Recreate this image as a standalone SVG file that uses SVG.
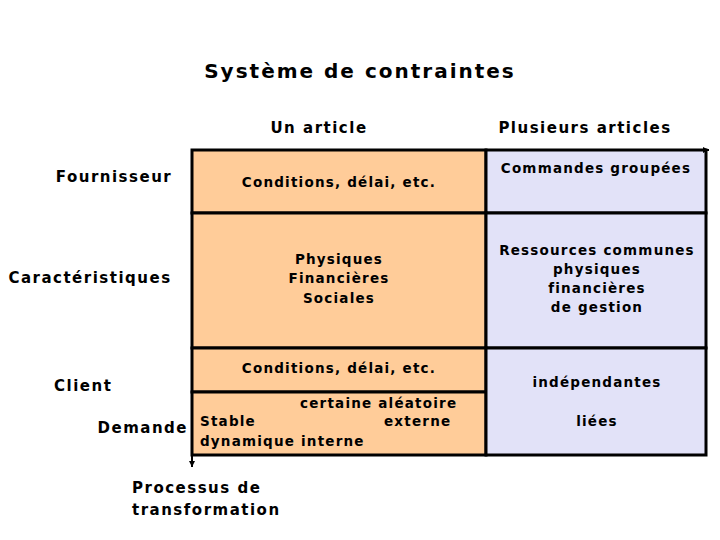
<svg xmlns="http://www.w3.org/2000/svg" width="720" height="540" viewBox="0 0 720 540">
<defs>
<style>
text{font-family:"DejaVu Sans","Verdana",sans-serif;font-weight:bold;fill:#000}
.t{font-size:20px;letter-spacing:2px}
.h{font-size:15px;letter-spacing:1.5px}
.b{font-size:13.5px;letter-spacing:1.2px}
.m{text-anchor:middle}
.or{fill:#FFCC99;stroke:#000;stroke-width:3}
.bl{fill:#E2E2F8;stroke:#000;stroke-width:3}
.ax{stroke:#000;stroke-width:2;fill:none}
</style>
<marker id="ah" markerWidth="8" markerHeight="8" refX="6" refY="4" orient="auto" markerUnits="userSpaceOnUse">
<path d="M0,1 L6,4 L0,7 Z" fill="#000"/>
</marker>
</defs>
<rect width="720" height="540" fill="#fff"/>
<text class="t m" x="360" y="78">Système de contraintes</text>
<text class="h m" x="319" y="133">Un article</text>
<text class="h m" x="585" y="133">Plusieurs articles</text>
<g id="labels">
<text class="h m" x="114" y="182">Fournisseur</text>
<text class="h m" x="90" y="283">Caractéristiques</text>
<text class="h" x="54" y="391">Client</text>
<text class="h" x="188" y="433" text-anchor="end">Demande</text>
<text class="h" x="132" y="493">Processus de</text>
<text class="h" x="132" y="515">transformation</text>
</g>
<g id="cell-fournisseur-un">
<rect class="or" x="192" y="150" width="294" height="63"/>
<text class="b m" x="339" y="187">Conditions, délai, etc.</text>
</g>
<g id="cell-fournisseur-plusieurs">
<rect class="bl" x="486" y="150" width="220" height="63"/>
<text class="b m" x="596" y="173">Commandes groupées</text>
</g>
<g id="cell-carac-un">
<rect class="or" x="192" y="213" width="294" height="135"/>
<text class="b m" x="339" y="264">Physiques</text>
<text class="b m" x="339" y="283">Financières</text>
<text class="b m" x="339" y="303">Sociales</text>
</g>
<g id="cell-carac-plusieurs">
<rect class="bl" x="486" y="213" width="220" height="135"/>
<text class="b m" x="597" y="255">Ressources communes</text>
<text class="b m" x="597" y="274">physiques</text>
<text class="b m" x="597" y="293">financières</text>
<text class="b m" x="597" y="312">de gestion</text>
</g>
<g id="cell-client-un">
<rect class="or" x="192" y="348" width="294" height="44"/>
<text class="b m" x="339" y="373">Conditions, délai, etc.</text>
</g>
<g id="cell-demande-un">
<rect class="or" x="192" y="392" width="294" height="63"/>
<text class="b" x="300" y="408">certaine aléatoire</text>
<text class="b" x="200" y="426">Stable</text>
<text class="b" x="384" y="426">externe</text>
<text class="b" x="200" y="446">dynamique interne</text>
</g>
<g id="cell-client-plusieurs">
<rect class="bl" x="486" y="348" width="220" height="107"/>
<text class="b m" x="597" y="387">indépendantes</text>
<text class="b m" x="597" y="426">liées</text>
</g>
<g id="connectors">
<line class="ax" x1="192" y1="150" x2="192" y2="467" marker-end="url(#ah)"/>
<line class="ax" x1="192" y1="150" x2="709" y2="150" marker-end="url(#ah)"/>
</g>
</svg>
